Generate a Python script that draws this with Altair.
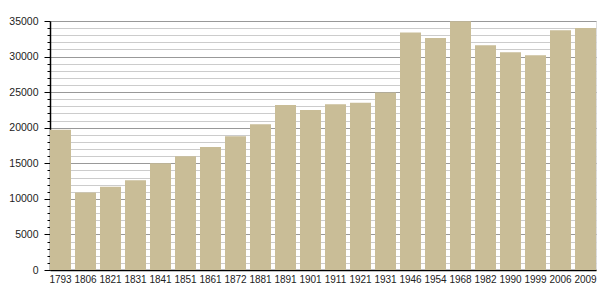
import altair as alt
import pandas as pd

years = ["1793", "1806", "1821", "1831", "1841", "1851", "1861", "1872", "1881", "1891", "1901",
         "1911", "1921", "1931", "1946", "1954", "1968", "1982", "1990", "1999", "2006", "2009"]
population = [19700, 10900, 11700, 12600, 15000, 16000, 17300, 18800, 20500, 23200, 22500,
              23300, 23500, 24950, 33400, 32600, 34950, 31600, 30600, 30200, 33700, 34000]
y_ticks = list(range(0, 35001, 1000))

df = pd.DataFrame({"year": years, "pop": population})

chart = alt.Chart(df).mark_bar(color="#c9bd97").encode(
    x=alt.X("year:N", sort=None, title=None,
            scale=alt.Scale(paddingInner=0.16, paddingOuter=0),
            axis=alt.Axis(labelAngle=0, ticks=False, domainColor="#000", domainWidth=1.5,
                          labelFont="Liberation Sans", labelFontSize=10, labelColor="#222",
                          labelPadding=4)),
    y=alt.Y("pop:Q", title=None,
            scale=alt.Scale(domain=[0, 35000], nice=False),
            axis=alt.Axis(values=y_ticks, format="d",
                          labelExpr="datum.value % 5000 === 0 ? datum.label : ''",
                          labelOverlap=False,
                          labelFont="Liberation Sans", labelFontSize=10.5, labelColor="#222",
                          labelPadding=6,
                          domainColor="#000", domainWidth=1.5,
                          tickColor="#000",
                          tickSize={"condition": {"test": "datum.value % 5000 === 0", "value": 6}, "value": 3},
                          gridColor={"condition": {"test": "datum.value % 5000 === 0", "value": "#999999"}, "value": "#cccccc"},
                          gridWidth=1)),
).properties(
    width=546, height=249,
    padding={"left": 50, "top": 21, "right": 9, "bottom": 30},
    autosize=alt.AutoSizeParams(type="none"),
).configure_view(stroke=None).configure(background="white")

chart.save("out.html", embed_options={"renderer": "svg", "actions": False})
